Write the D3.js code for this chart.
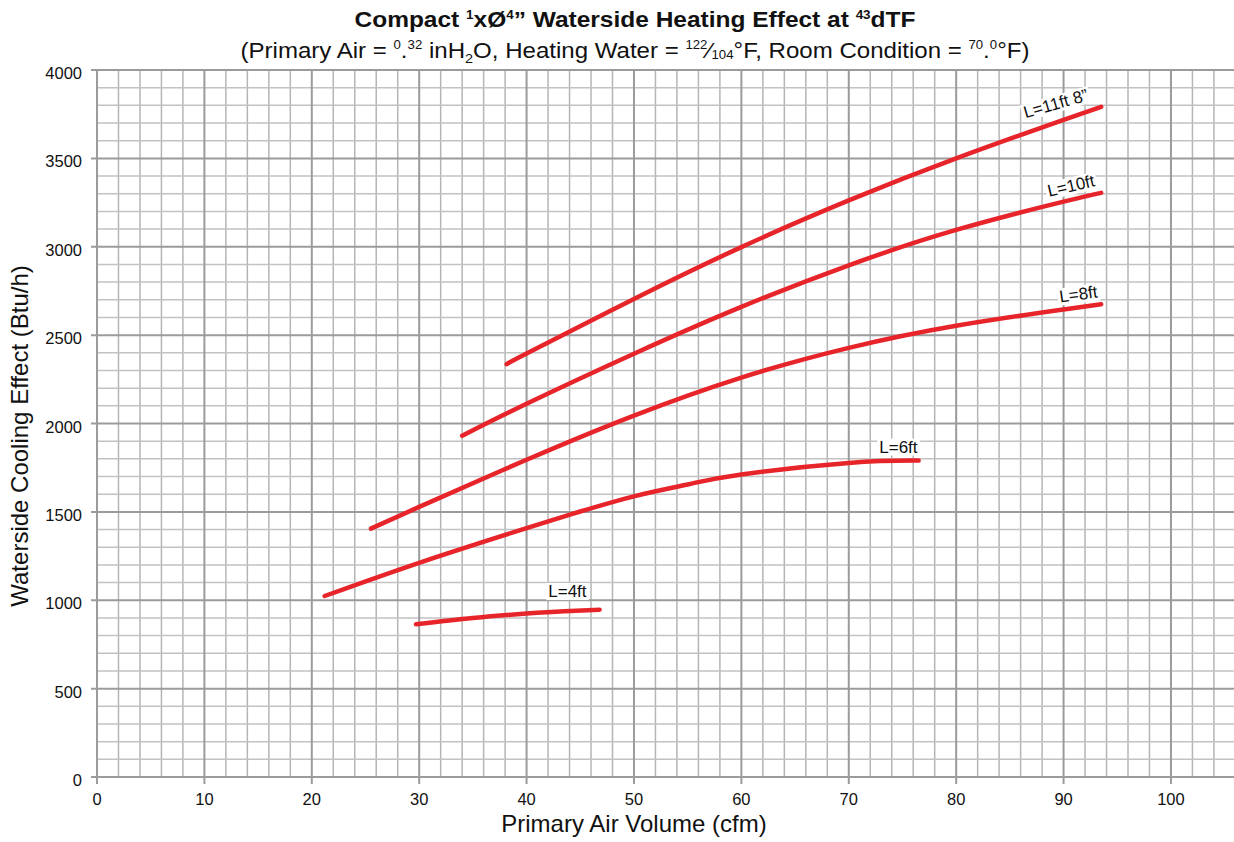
<!DOCTYPE html>
<html>
<head>
<meta charset="utf-8">
<script src="https://cdn.jsdelivr.net/npm/d3@7"></script>
<style>
  body { margin: 0; background: #fff; }
  svg { display: block; font-family: "Liberation Sans", Arial, sans-serif; }
</style>
</head>
<body>
<svg id="chart" width="1234" height="842"></svg>
<script>
// curve data (cfm vs Btu/h), one pair of arrays per coil length
const cfm4ft = [29.7, 35, 40, 43.5, 46.8];
const btu4ft = [864, 900, 925, 938, 946];

const cfm6ft = [21.2, 30, 40, 45, 50, 55, 60, 70, 76.5];
const btu6ft = [1024, 1212, 1408, 1502, 1588, 1655, 1712, 1777, 1790];

const cfm8ft = [25.5, 30, 40, 50, 60, 70, 80, 90, 93.5];
const btu8ft = [1405, 1528, 1795, 2045, 2260, 2428, 2553, 2645, 2675];

const cfm10ft = [34, 40, 50, 60, 70, 80, 90, 93.5];
const btu10ft = [1931, 2112, 2395, 2660, 2895, 3095, 3255, 3305];

const cfm11ft8 = [38.2, 40, 50, 60, 70, 80, 90, 93.5];
const btu11ft8 = [2337, 2396, 2705, 2998, 3262, 3500, 3718, 3792];

const curveNames = ["L=4ft", "L=6ft", "L=8ft", "L=10ft", "L=11ft 8\u201d"];

const xTicks = [0, 10, 20, 30, 40, 50, 60, 70, 80, 90, 100];
const yTicks = [0, 500, 1000, 1500, 2000, 2500, 3000, 3500, 4000];

// label placement (pixels, relative to chosen point on the curve)
const labelLayout = [
  { at: 43.8, anchor: "middle", dx: 0, dy: -14, angle: 0 },
  { at: 76.5, anchor: "end", dx: -1, dy: -8, angle: 0 },
  { at: 93.5, anchor: "end", dx: -2, dy: -7, angle: -8 },
  { at: 93.5, anchor: "end", dx: -4, dy: -7, angle: -13 },
  { at: 93.5, anchor: "end", dx: -10, dy: -7, angle: -16 }
];

const svg = d3.select("#chart");
const plotLeft = 97, plotRight = 1235.4, plotTop = 70, plotBottom = 777;

const x = d3.scaleLinear().domain([0, 106]).range([plotLeft, plotRight]);
const y = d3.scaleLinear().domain([0, 4000]).range([plotBottom, plotTop]);

const plot = svg.append("g").attr("class", "plot");

// minor grid
const xMinor = d3.range(0, 107, 2).filter(v => v % 10 !== 0);
const yMinor = d3.range(0, 4001, 100).filter(v => v % 500 !== 0);

plot.selectAll(".xminor").data(xMinor).enter().append("line")
  .attr("x1", d => x(d)).attr("x2", d => x(d))
  .attr("y1", plotTop).attr("y2", plotBottom)
  .style("stroke", "#b5b5b5").style("stroke-width", 1.5);

plot.selectAll(".yminor").data(yMinor).enter().append("line")
  .attr("x1", plotLeft).attr("x2", 1234)
  .attr("y1", d => y(d)).attr("y2", d => y(d))
  .style("stroke", "#c2c2c2").style("stroke-width", 1.5);

// major grid + ticks outside
plot.selectAll(".xmajor").data(xTicks).enter().append("line")
  .attr("x1", d => x(d)).attr("x2", d => x(d))
  .attr("y1", plotTop).attr("y2", plotBottom + 7)
  .style("stroke", "#9b9b9b").style("stroke-width", 2);

plot.selectAll(".ymajor").data(yTicks).enter().append("line")
  .attr("x1", plotLeft - 6).attr("x2", 1234)
  .attr("y1", d => y(d)).attr("y2", d => y(d))
  .style("stroke", "#9b9b9b").style("stroke-width", 2);

// tick labels
svg.selectAll(".xlab").data(xTicks).enter().append("text")
  .attr("x", d => x(d)).attr("y", 805)
  .attr("text-anchor", "middle")
  .style("font-size", "16.5px").style("fill", "#111")
  .text(d => d);

svg.selectAll(".ylab").data(yTicks).enter().append("text")
  .attr("x", 82).attr("y", d => y(d) + 9)
  .attr("text-anchor", "end")
  .style("font-size", "16.5px").style("fill", "#111")
  .text(d => d);

// curves
const series = [
  [cfm4ft, btu4ft], [cfm6ft, btu6ft], [cfm8ft, btu8ft], [cfm10ft, btu10ft], [cfm11ft8, btu11ft8]
];

const line = d3.line()
  .x(d => x(d[0]))
  .y(d => y(d[1]))
  .curve(d3.curveNatural);

series.forEach(([xs, ys], i) => {
  const pts = xs.map((v, j) => [v, ys[j]]);
  plot.append("path")
    .attr("d", line(pts))
    .style("fill", "none")
    .style("stroke", "#e8242b")
    .style("stroke-width", 4.5)
    .style("stroke-linecap", "round");

  // labels with white backing
  const lay = labelLayout[i];
  const yAt = d3.scaleLinear().domain(xs).range(ys)(lay.at);
  const g = svg.append("g")
    .attr("transform", `translate(${x(lay.at) + lay.dx}, ${y(yAt)}) rotate(${lay.angle}) translate(0, ${lay.dy})`);
  const bg = g.append("rect").style("fill", "#fff");
  const t = g.append("text")
    .attr("text-anchor", lay.anchor)
    .style("font-size", "17px").style("fill", "#111")
    .text(curveNames[i]);
  const b = t.node().getBBox();
  bg.attr("x", b.x - 2).attr("y", b.y + 1).attr("width", b.width + 4).attr("height", b.height - 2);
});

// rich text helper for super/subscripts
function richText(sel, parts, size) {
  let shift = 0;
  parts.forEach(([str, kind]) => {
    let target = 0, fs = size;
    if (kind === "sup") { target = -size * 0.38; fs = size * 0.55; }
    if (kind === "sub") { target = size * 0.2; fs = size * 0.6; }
    if (kind === "den") { target = size * 0.05; fs = size * 0.55; }
    sel.append("tspan")
      .attr("dy", target - shift)
      .style("font-size", fs + "px")
      .text(str);
    shift = target;
  });
}

const title = svg.append("text")
  .attr("x", 635).attr("y", 27)
  .attr("text-anchor", "middle")
  .attr("textLength", 561).attr("lengthAdjust", "spacingAndGlyphs")
  .style("font-weight", "bold").style("font-size", "22px").style("fill", "#111");
richText(title, [
  ["Compact ", ""], ["1", "sup"], ["x\u00d8", ""], ["4", "sup"], ["\u201d Waterside Heating Effect at ", ""], ["43", "sup"], ["dTF", ""]
], 22);

const subtitle = svg.append("text")
  .attr("x", 635).attr("y", 58)
  .attr("text-anchor", "middle")
  .attr("textLength", 789).attr("lengthAdjust", "spacingAndGlyphs")
  .style("font-size", "22.5px").style("fill", "#111");
richText(subtitle, [
  ["(Primary Air = ", ""], ["0", "sup"], [".", ""], ["32", "sup"], [" inH", ""], ["2", "sub"], ["O, Heating Water = ", ""],
  ["122", "sup"], ["\u2044", ""], ["104", "den"], ["\u00b0F, Room Condition = ", ""], ["70", "sup"], [".", ""], ["0", "sup"], ["\u00b0F)", ""]
], 22.5);

// axis titles
svg.append("text")
  .attr("x", x(50)).attr("y", 832)
  .attr("text-anchor", "middle")
  .style("font-size", "24px").style("fill", "#111")
  .text("Primary Air Volume (cfm)");

svg.append("text")
  .attr("transform", "translate(28, 436) rotate(-90)")
  .attr("text-anchor", "middle")
  .style("font-size", "24px").style("fill", "#111")
  .text("Waterside Cooling Effect (Btu/h)");
</script>
</body>
</html>
